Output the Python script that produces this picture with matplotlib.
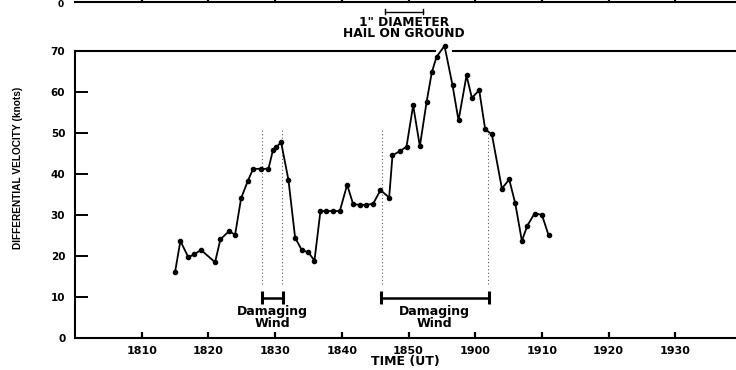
import matplotlib
matplotlib.use("Agg")
import matplotlib.pyplot as plt
from matplotlib.transforms import blended_transform_factory

plt.rcParams["font.family"] = ["DejaVu Sans"]
plt.rcParams["font.weight"] = "bold"

# minutes after 1800 UT and differential velocity (knots)
minutes = [15.0, 15.8, 17.0, 17.9, 18.9, 21.0, 21.8, 23.1, 24.0, 24.9,
           25.9, 26.7, 27.9, 29.0, 29.7, 30.2, 30.9, 32.0, 33.0, 34.0,
           35.0, 35.9, 36.8, 37.7, 38.7, 39.7, 40.8, 41.7, 42.7, 43.7,
           44.7, 45.8, 47.1, 47.6, 48.7, 49.7, 50.7, 51.7, 52.7, 53.5,
           54.2, 55.4, 56.6, 57.5, 58.7, 59.5, 60.6, 61.5, 62.5, 64.0,
           65.1, 66.0, 67.0, 67.8, 68.9, 70.0, 71.0]
velocity = [16.0, 23.6, 19.6, 20.4, 21.4, 18.4, 24.0, 26.0, 25.1, 34.0,
            38.2, 41.2, 41.2, 41.2, 45.9, 46.5, 47.7, 38.5, 24.4, 21.4,
            20.8, 18.8, 30.9, 30.9, 30.9, 30.9, 37.3, 32.6, 32.4, 32.4,
            32.7, 36.0, 34.2, 44.5, 45.5, 46.6, 56.7, 46.7, 57.4, 64.8,
            68.5, 71.2, 61.6, 53.0, 64.0, 58.5, 60.4, 50.8, 49.6, 36.4,
            38.6, 32.8, 23.6, 27.3, 30.3, 30.0, 25.0]

tick_minutes = [10, 20, 30, 40, 50, 60, 70, 80, 90]
tick_labels = ["1810", "1820", "1830", "1840", "1850", "1900", "1910", "1920", "1930"]

wind_periods = [(28.1, 31.2), (45.9, 62.0)]
wind_marks = [28.1, 31.1, 46.1, 61.9]
hail_period = (46.5, 52.2)

W, H = 736, 370
fig = plt.figure(figsize=(W / 100, H / 100), dpi=100)

left = 75 / W
bottom = (H - 337.7) / H
height = (337.7 - 50.8) / H
ax = fig.add_axes([left, bottom, 1 - left, height])

ax.plot(minutes, velocity, color="black", lw=1.3, marker="o", ms=3.0,
        clip_on=False, zorder=3)

# dotted markers for damaging wind onset/end
ax.vlines(wind_marks, 13, 51, colors="0.35", linestyles=(0, (1, 2.2)), lw=0.8)

# damaging wind bars
for a, b in wind_periods:
    ax.plot([a, b], [9.6, 9.6], color="black", lw=1.8)
    ax.vlines([a, b], 8.3, 11.5, colors="black", lw=2.2)
    c = (a + b) / 2
    ax.text(c, 4.9, "Damaging\nWind", ha="center", va="center",
            fontsize=9, fontweight="bold", linespacing=0.86)

ax.set_xlim(0, 99.1)
ax.set_ylim(0, 70)
ax.set_xticks(tick_minutes)
ax.set_xticklabels(tick_labels)
ax.set_yticks(range(0, 71, 10))

ax.spines["right"].set_visible(False)
ax.spines["top"].set_visible(False)
for s in ["left", "bottom"]:
    ax.spines[s].set_linewidth(1.5)
# top frame line, broken where the peak crosses it
ax.plot([0, 53.9], [70, 70], color="black", lw=1.5, clip_on=False)
ax.plot([56.6, 99.1], [70, 70], color="black", lw=1.5, clip_on=False)

ax.tick_params(axis="x", direction="in", length=4.5, width=1.6, pad=6,
               labelsize=8)
ax.tick_params(axis="y", direction="in", length=9.5, width=1.4, pad=7,
               labelsize=7.5)
for lab in ax.get_xticklabels() + ax.get_yticklabels():
    lab.set_fontweight("bold")

fig.text(18 / W, 1 - 168 / H, "DIFFERENTIAL VELOCITY (knots)", rotation=90,
         ha="center", va="center", fontsize=7.3, fontweight="bold",
         family=["Liberation Sans", "DejaVu Sans"])
fig.text(405 / W, 1 - 362 / H, "TIME (UT)", ha="center", va="center",
         fontsize=9, fontweight="bold")

# hail annotation above the panel
tr = blended_transform_factory(ax.transData, fig.transFigure)
hy = 1 - 11.7 / H
ax.plot(hail_period, [hy, hy], color="black", lw=1.0, transform=tr, clip_on=False)
ax.plot([hail_period[0]] * 2, [hy - 2.5 / H, hy + 2.5 / H], color="black",
        lw=1.0, transform=tr, clip_on=False)
ax.plot([hail_period[1]] * 2, [hy - 2.5 / H, hy + 2.5 / H], color="black",
        lw=1.0, transform=tr, clip_on=False)
ax.text(49.3, 1 - 28 / H, '1" DIAMETER\nHAIL ON GROUND', transform=tr,
        ha="center", va="center", fontsize=8.8, fontweight="bold",
        linespacing=0.85)

# bottom edge of the panel above
ax2 = fig.add_axes([left, 1 - 2 / H, 1 - left, 0.3])
ax2.set_xlim(0, 99.1)
ax2.set_ylim(0, 1)
for s in ["left", "right", "top"]:
    ax2.spines[s].set_visible(False)
ax2.spines["bottom"].set_linewidth(1.5)
ax2.set_xticks(tick_minutes)
ax2.set_xticklabels([])
ax2.set_yticks([])
ax2.tick_params(axis="x", direction="in", length=4.5, width=1.6)
ax2.patch.set_visible(False)
fig.text(61 / W, 1, "0", ha="center", va="top", fontsize=6.5,
         fontweight="bold")

fig.savefig("out.png", dpi=100)
